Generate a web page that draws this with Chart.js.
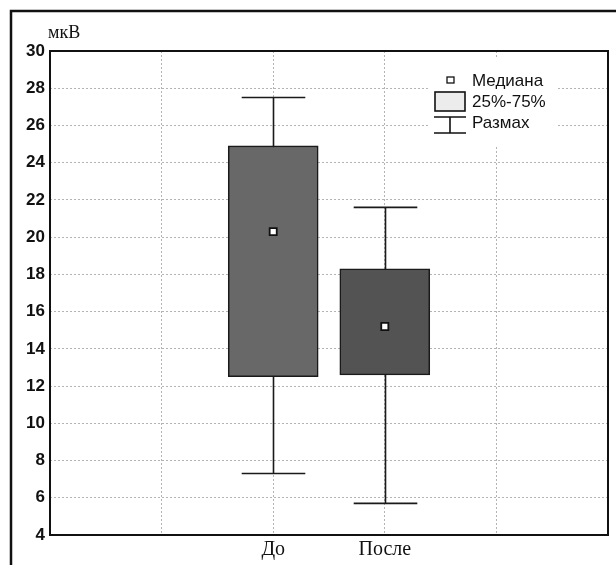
<!DOCTYPE html>
<html>
<head>
<meta charset="utf-8">
<script src="https://cdn.jsdelivr.net/npm/chart.js@4"></script>
<style>
  html, body { margin: 0; padding: 0; background: #fff; overflow: hidden; }
  #wrap { position: relative; width: 616px; height: 565px; }
</style>
</head>
<body>
<div id="wrap"><canvas id="boxChart" width="616" height="565"></canvas></div>
<script>
// ================= DATA =================
const categories = ["До", "После"];
const whiskerLow = [7.3, 5.7];
const boxLow = [12.5, 12.6];
const medians = [20.3, 15.2];
const boxHigh = [24.9, 18.3];
const whiskerHigh = [27.5, 21.6];
const boxColors = ["#686868", "#535353"];
const yTicks = [4, 6, 8, 10, 12, 14, 16, 18, 20, 22, 24, 26, 28, 30];
const yUnit = "мкВ";
const legendLabels = ["Медиана", "25%-75%", "Размах"];

// category i sits on x = i + 2 of a 0..5 axis
const xOf = (i) => i + 2;

const gridColor = "#b4b4b4";

/* ================= PLUGIN: frame, whiskers, legend ================= */
const boxExtras = {
  id: "boxExtras",
  beforeDatasetsDraw(chart) {
    const { ctx, scales } = chart;
    const x = scales.x;
    const y = scales.y;
    const capHalf = (x.getPixelForValue(1) - x.getPixelForValue(0)) * 0.285;
    ctx.save();
    ctx.strokeStyle = "#1a1a1a";
    ctx.lineWidth = 1.6;
    categories.forEach((c, i) => {
      const px = Math.round(x.getPixelForValue(xOf(i))) + 0.5;
      const yl = y.getPixelForValue(whiskerLow[i]);
      const yh = y.getPixelForValue(whiskerHigh[i]);
      ctx.beginPath();
      ctx.moveTo(px, yl);
      ctx.lineTo(px, yh);
      ctx.moveTo(px - capHalf, yl);
      ctx.lineTo(px + capHalf, yl);
      ctx.moveTo(px - capHalf, yh);
      ctx.lineTo(px + capHalf, yh);
      ctx.stroke();
    });
    ctx.restore();
  },
  afterDraw(chart) {
    const { ctx, chartArea: a } = chart;
    ctx.save();

    // plot frame
    ctx.strokeStyle = "#111";
    ctx.lineWidth = 2;
    ctx.strokeRect(a.left, a.top, a.right - a.left, a.bottom - a.top);

    // outer frame (cut by the window on right/bottom)
    ctx.lineWidth = 2.5;
    ctx.strokeRect(11, 11, 640, 600);

    // unit label
    ctx.fillStyle = "#111";
    ctx.font = "18px 'Liberation Serif', serif";
    ctx.textAlign = "left";
    ctx.textBaseline = "alphabetic";
    ctx.fillText(yUnit, a.left - 2, a.top - 13);

    // legend
    const lx = 428, ly = 57;
    ctx.fillStyle = "#fff";
    ctx.fillRect(lx, ly, 129, 89);

    ctx.font = "17px 'Liberation Sans', Arial, sans-serif";
    ctx.textBaseline = "middle";
    ctx.fillStyle = "#111";
    ctx.fillText(legendLabels[0], 472, 81);
    ctx.fillText(legendLabels[1], 472, 102);
    ctx.fillText(legendLabels[2], 472, 123);

    ctx.strokeStyle = "#111";
    ctx.lineWidth = 1.3;
    ctx.fillStyle = "#fff";
    ctx.fillRect(447, 77, 7, 6);
    ctx.strokeRect(447, 77, 7, 6);

    ctx.fillStyle = "#ececec";
    ctx.lineWidth = 1.6;
    ctx.fillRect(435, 92, 30, 19);
    ctx.strokeRect(435, 92, 30, 19);

    ctx.beginPath();
    ctx.moveTo(434, 117);
    ctx.lineTo(466, 117);
    ctx.moveTo(450, 117);
    ctx.lineTo(450, 133);
    ctx.moveTo(434, 133);
    ctx.lineTo(466, 133);
    ctx.stroke();

    ctx.restore();
  },
};

/* ================= CHART ================= */
const boxChart = new Chart(document.getElementById("boxChart"), {
  type: "bar",
  data: {
    datasets: [
      {
        type: "scatter",
        label: "Медиана",
        data: categories.map((c, i) => ({ x: xOf(i), y: medians[i] })),
        pointStyle: "rect",
        pointRadius: 5,
        backgroundColor: "#fff",
        borderColor: "#111",
        borderWidth: 1.8,
        order: 0,
      },
      {
        label: "25%-75%",
        data: categories.map((c, i) => ({ x: xOf(i), y: [boxLow[i], boxHigh[i]] })),
        backgroundColor: boxColors,
        borderColor: "#1a1a1a",
        borderWidth: 1.6,
        borderSkipped: false,
        barThickness: 90,
        order: 1,
      },
    ],
  },
  options: {
    responsive: false,
    animation: false,
    layout: { padding: { top: 51, right: 8, left: 8, bottom: 0 } },
    plugins: {
      legend: { display: false },
      tooltip: { enabled: false },
    },
    scales: {
      x: {
        type: "linear",
        min: 0,
        max: 5,
        offset: false,
        afterBuildTicks: (s) => {
          s.ticks = [1, 2, 3, 4].map((v) => ({ value: v }));
        },
        ticks: {
          autoSkip: false,
          padding: 3,
          color: "#111",
          font: { family: "'Liberation Serif', serif", size: 20 },
          callback: (v) => (v >= 2 && v - 2 < categories.length ? categories[v - 2] : ""),
        },
        grid: {
          offset: false,
          color: gridColor,
          drawTicks: false,
        },
        border: { display: false, dash: [2, 2] },
        afterFit: (s) => {
          s.height = 30;
        },
      },
      y: {
        min: 4,
        max: 30,
        afterBuildTicks: (s) => {
          s.ticks = yTicks.map((v) => ({ value: v }));
        },
        ticks: {
          padding: 5,
          color: "#111",
          font: { family: "'Liberation Sans', Arial, sans-serif", size: 17, weight: "bold" },
        },
        grid: {
          color: gridColor,
          drawTicks: false,
        },
        border: { display: false, dash: [2, 2] },
        afterFit: (s) => {
          s.width = 42;
        },
      },
    },
  },
  plugins: [boxExtras],
});
</script>
</body>
</html>
